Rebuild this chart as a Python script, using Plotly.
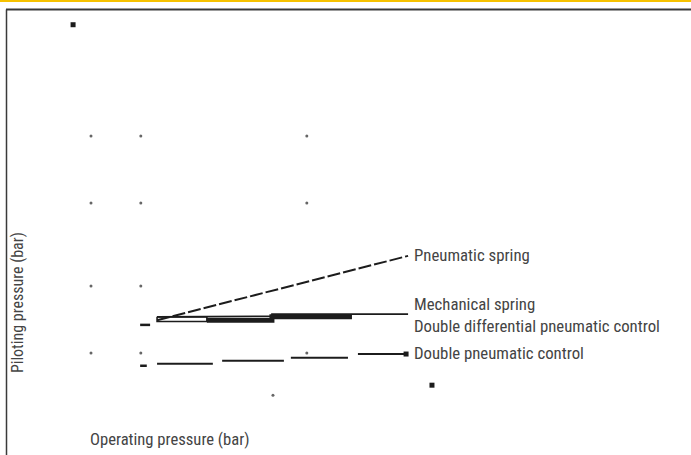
import plotly.graph_objects as go

# ---- data (bar) ----
series_names = ["Pneumatic spring", "Mechanical spring",
                "Double differential pneumatic control", "Double pneumatic control"]

pneu_spring_x = [1.99, 9.55]
pneu_spring_y = [1.49, 2.45]

mech_spring_x = [1.99, 3.49, 5.45, 5.45, 9.55]
mech_spring_y = [1.54, 1.54, 1.55, 1.58, 1.58]

ddiff_x = [3.49, 5.45, 5.45, 7.86]
ddiff_y = [1.49, 1.49, 1.54, 1.54]
ddiff_outline_x = [1.99, 3.49, 3.49, 1.99, 1.99]
ddiff_outline_y = [1.54, 1.54, 1.47, 1.47, 1.54]

dpneu_x = [1.99, 3.67, None, 3.95, 5.81, None, 6.02, 7.74, None, 8.04, 9.49]
dpneu_y = [0.84, 0.84, None, 0.885, 0.885, None, 0.93, 0.93, None, 0.985, 0.985]

stub_x = [1.48, 1.78, None, 1.48, 1.68]
stub_y = [1.42, 1.42, None, 0.81, 0.81]

grid_x = [0, 1.5, 6.5, 0, 1.5, 6.5, 0, 1.5, 0, 1.5, 6.5, 5.48]
grid_y = [4.24, 4.24, 4.24, 3.24, 3.24, 3.24, 2.0, 2.0, 1.0, 1.0, 1.0, 0.37]

blob_x = [-0.54, 10.27, 9.49]
blob_y = [5.9, 0.52, 0.985]

label_x = [9.67, 9.67, 9.67, 9.67]
label_y = [2.46, 1.73, 1.40, 1.0]

x_title = "Operating pressure (bar)"
y_title = "Piloting pressure (bar)"

INK = "#1c1c1c"
TXT = "#444444"
FONT = "Liberation Sans Narrow, Roboto Condensed, Arial Narrow, sans-serif"

fig = go.Figure()
fig.add_trace(go.Scatter(x=pneu_spring_x, y=pneu_spring_y, mode="lines",
                         line=dict(color=INK, width=2, dash="13px,3px"), name=series_names[0]))
fig.add_trace(go.Scatter(x=mech_spring_x, y=mech_spring_y, mode="lines",
                         line=dict(color=INK, width=1.6), name=series_names[1]))
fig.add_trace(go.Scatter(x=ddiff_x, y=ddiff_y, mode="lines",
                         line=dict(color=INK, width=5), name=series_names[2]))
fig.add_trace(go.Scatter(x=ddiff_outline_x, y=ddiff_outline_y, mode="lines",
                         line=dict(color=INK, width=1.6), name=series_names[2], showlegend=False))
fig.add_trace(go.Scatter(x=dpneu_x, y=dpneu_y, mode="lines",
                         line=dict(color=INK, width=2), name=series_names[3]))
fig.add_trace(go.Scatter(x=stub_x, y=stub_y, mode="lines",
                         line=dict(color=INK, width=2.5), showlegend=False))
fig.add_trace(go.Scatter(x=grid_x, y=grid_y, mode="markers",
                         marker=dict(color="#666666", size=3), showlegend=False))
fig.add_trace(go.Scatter(x=blob_x, y=blob_y, mode="markers",
                         marker=dict(color=INK, size=5, symbol="square"), showlegend=False))

for name, lx, ly in zip(series_names, label_x, label_y):
    fig.add_annotation(x=lx, y=ly, text=name, showarrow=False, xanchor="left", yanchor="middle",
                       font=dict(family=FONT, size=16.8, color=TXT))

fig.add_annotation(xref="paper", yref="paper", x=0.246, y=0.033, text=x_title, showarrow=False,
                   xanchor="center", yanchor="middle", font=dict(family=FONT, size=16.6, color=TXT))
fig.add_annotation(xref="paper", yref="paper", x=0.0246, y=0.336, text=y_title, showarrow=False,
                   textangle=-90, xanchor="center", yanchor="middle",
                   font=dict(family=FONT, size=16, color=TXT))

# frame
fig.add_shape(type="line", xref="paper", yref="paper", x0=0, x1=1, y0=1 - 1/455, y1=1 - 1/455,
              line=dict(color="#f7c200", width=2))
fig.add_shape(type="line", xref="paper", yref="paper", x0=6/691, x1=1, y0=1 - 9.5/455, y1=1 - 9.5/455,
              line=dict(color="#3a3a3a", width=2))
fig.add_shape(type="line", xref="paper", yref="paper", x0=6.5/691, x1=6.5/691, y0=0, y1=1 - 9.5/455,
              line=dict(color="#3a3a3a", width=1.5))

fig.update_layout(width=691, height=455, margin=dict(l=0, r=0, t=0, b=0),
                  paper_bgcolor="white", plot_bgcolor="white", showlegend=False,
                  xaxis=dict(visible=False, range=[-2.741, 18.072]),
                  yaxis=dict(visible=False, range=[-0.522, 6.269]))
fig.write_html("out.html", config={"displayModeBar": False},
               post_script="document.body.style.margin='0';document.body.style.overflow='hidden';")
